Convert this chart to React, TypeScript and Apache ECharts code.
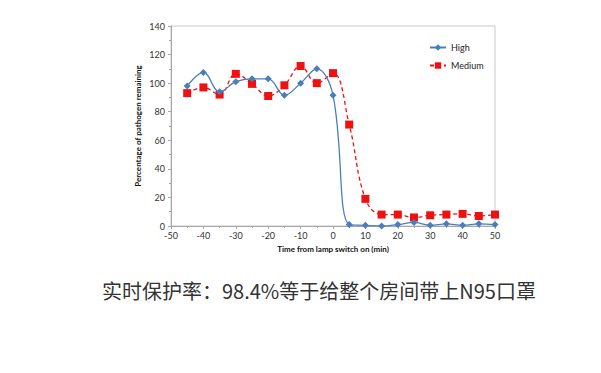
import React, { useEffect, useRef } from "react";
import * as echarts from "echarts";

const times = [-45, -40, -35, -30, -25, -20, -15, -10, -5, 0, 5, 10, 15, 20, 25, 30, 35, 40, 45, 50];
const highValues = [98, 107.5, 94, 101, 103, 103, 91.5, 100, 110, 91.5, 1, 0.5, 0, 1, 2.5, 0.5, 1.5, 0.5, 1.5, 1];
const mediumValues = [93, 97, 92, 106.5, 99.5, 91, 98.5, 112, 100, 107, 71, 19, 8, 8, 6, 7.5, 8, 8.5, 7, 8];
const seriesNames = ["High", "Medium"];
const xTitle = "Time from lamp switch on (min)";
const yTitle = "Percentage of pathogen remaining";
const caption = "实时保护率：98.4%等于给整个房间带上N95口罩";

export default function App() {
  const ref = useRef<HTMLDivElement>(null);
  useEffect(() => {
    document.body.style.margin = "0";
    const chart = echarts.init(ref.current!, null, { renderer: "svg" });
    const font = "Lato, 'Open Sans', sans-serif";
    chart.setOption({
      animation: false,
      backgroundColor: "#ffffff",
      grid: { left: 171, right: 106, top: 26, bottom: 147, show: true, borderColor: "#c8c8c8", borderWidth: 1 },
      legend: {
        orient: "vertical",
        left: 424,
        top: 38,
        itemGap: 9,
        itemWidth: 16,
        itemHeight: 8,
        textStyle: { fontFamily: font, fontSize: 9, color: "#222" },
        data: seriesNames,
      },
      xAxis: {
        type: "value",
        min: -50,
        max: 50,
        interval: 10,
        name: xTitle,
        nameLocation: "middle",
        nameGap: 19,
        nameMoveOverlap: false,
        nameTextStyle: { fontFamily: font, fontSize: 8, fontWeight: "bold", color: "#111" },
        axisLine: { onZero: false, lineStyle: { color: "#a6a6a6" } },
        axisTick: { show: true, length: 3, lineStyle: { color: "#a6a6a6" } },
        minorTick: { show: true, splitNumber: 2, length: 2, lineStyle: { color: "#a6a6a6" } },
        axisLabel: { fontFamily: font, fontSize: 9, color: "#333", margin: 5 },
        splitLine: { show: false },
      },
      yAxis: {
        type: "value",
        min: 0,
        max: 140,
        interval: 20,
        name: yTitle,
        nameLocation: "middle",
        nameGap: 29,
        nameMoveOverlap: false,
        nameTextStyle: { fontFamily: font, fontSize: 8, fontWeight: "bold", color: "#111" },
        axisLine: { show: true, onZero: false, lineStyle: { color: "#a6a6a6" } },
        axisTick: { show: true, length: 3, lineStyle: { color: "#a6a6a6" } },
        minorTick: { show: true, splitNumber: 2, length: 2, lineStyle: { color: "#a6a6a6" } },
        axisLabel: { fontFamily: font, fontSize: 9, color: "#333", margin: 6 },
        splitLine: { show: false },
      },
      series: [
        {
          name: seriesNames[0],
          type: "line",
          data: times.map((t, i) => [t, highValues[i]]),
          smooth: 0.4,
          symbol: "diamond",
          symbolSize: 7,
          itemStyle: { color: "#4a7ebb" },
          lineStyle: { color: "#4a7ebb", width: 1.3 },
          clip: true,
          z: 3,
        },
        {
          name: seriesNames[1],
          type: "line",
          data: times.map((t, i) => [t, mediumValues[i]]),
          smooth: 0.4,
          symbol: "rect",
          symbolSize: 8,
          itemStyle: { color: "#ee1111" },
          lineStyle: { color: "#ee1111", width: 1.3, type: [4, 3] },
          clip: true,
          z: 2,
        },
      ],
      graphic: [
        {
          type: "text",
          left: 102,
          top: 280,
          style: {
            text: caption,
            fontFamily: "'Noto Sans CJK SC', sans-serif",
            fontSize: 20,
            fill: "#333333",
          },
        },
      ],
    });
    return () => chart.dispose();
  }, []);
  return <div ref={ref} style={{ position: "absolute", left: 0, top: 0, width: 601, height: 373 }} />;
}
